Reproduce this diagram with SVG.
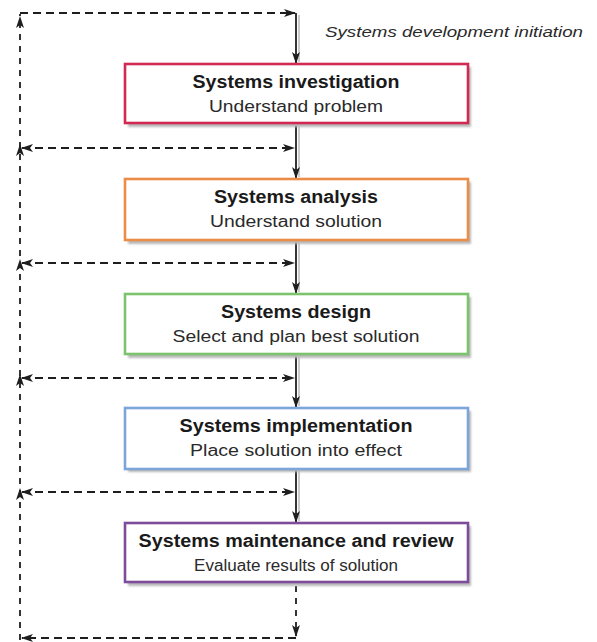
<svg xmlns="http://www.w3.org/2000/svg" width="597" height="642" viewBox="0 0 597 642">
  <style>
    .box { fill: #ffffff; stroke-width: 2.6; }
    .shadow { fill: #b8b8b8; filter: url(#soft); }
    .title { font-family: "Liberation Sans", Arial, sans-serif; font-weight: bold; font-size: 17.5px; fill: #1a1a1a; text-anchor: middle; }
    .sub { font-family: "Liberation Sans", Arial, sans-serif; font-size: 16px; fill: #2a2a2a; text-anchor: middle; }
    .note { font-family: "Liberation Sans", Arial, sans-serif; font-style: italic; font-size: 15.5px; fill: #2a2a2a; }
    .flow { stroke: #1e1e1e; stroke-width: 1.8; fill: none; }
    .flowshade { stroke: #b5b5b5; stroke-width: 1.4; fill: none; }
    .dashh { stroke: #1e1e1e; stroke-width: 1.8; fill: none; stroke-dasharray: 8 5; }
    .dashv { stroke: #1e1e1e; stroke-width: 1.8; fill: none; stroke-dasharray: 6 6; }
  </style>
  <defs>
    <filter id="soft" x="-10%" y="-10%" width="120%" height="130%">
      <feGaussianBlur stdDeviation="0.8"/>
    </filter>
    <marker id="head" viewBox="0 0 12 8" refX="11" refY="4" markerWidth="12" markerHeight="8" markerUnits="userSpaceOnUse" orient="auto-start-reverse">
      <path d="M0,0 L12,4 L0,8 L3,4 z" fill="#1e1e1e"/>
    </marker>
  </defs>

  <!-- connectors -->
  <g id="connectors">
    <!-- main downward flow between stages -->
    <line class="flowshade" x1="299" y1="15" x2="299" y2="62"/>
    <line class="flowshade" x1="299" y1="126" x2="299" y2="177"/>
    <line class="flowshade" x1="299" y1="243" x2="299" y2="292"/>
    <line class="flowshade" x1="299" y1="357" x2="299" y2="406"/>
    <line class="flowshade" x1="299" y1="471" x2="299" y2="521"/>
    <line class="flow" x1="296" y1="13" x2="296" y2="63" marker-end="url(#head)"/>
    <line class="flow" x1="296" y1="124" x2="296" y2="178" marker-end="url(#head)"/>
    <line class="flow" x1="296" y1="241" x2="296" y2="293" marker-end="url(#head)"/>
    <line class="flow" x1="296" y1="355" x2="296" y2="407" marker-end="url(#head)"/>
    <line class="flow" x1="296" y1="470" x2="296" y2="522" marker-end="url(#head)"/>

    <!-- feedback loop -->
    <line class="dashv" x1="296" y1="586" x2="296" y2="636" marker-end="url(#head)"/>
    <line class="dashh" x1="296" y1="638" x2="22" y2="638" marker-end="url(#head)"/>
    <line class="dashv" x1="20" y1="640" x2="20" y2="14"/>
    <line class="dashh" x1="20" y1="13" x2="295" y2="13" marker-end="url(#head)"/>

    <!-- upward arrowheads on the return line -->
    <path d="M20,16 L24,28 L20,25 L16,28 z" fill="#1e1e1e"/>
    <path d="M20,144 L24,156 L20,153 L16,156 z" fill="#1e1e1e"/>
    <path d="M20,259 L24,271 L20,268 L16,271 z" fill="#1e1e1e"/>
    <path d="M20,374 L24,386 L20,383 L16,386 z" fill="#1e1e1e"/>
    <path d="M20,488 L24,500 L20,497 L16,500 z" fill="#1e1e1e"/>

    <!-- two-way links between stages and the return line -->
    <line class="dashh" x1="22" y1="148" x2="294" y2="148" marker-start="url(#head)" marker-end="url(#head)"/>
    <line class="dashh" x1="22" y1="263" x2="294" y2="263" marker-start="url(#head)" marker-end="url(#head)"/>
    <line class="dashh" x1="22" y1="378" x2="294" y2="378" marker-start="url(#head)" marker-end="url(#head)"/>
    <line class="dashh" x1="22" y1="492" x2="294" y2="492" marker-start="url(#head)" marker-end="url(#head)"/>
  </g>

  <text class="note" x="325" y="37" textLength="258" lengthAdjust="spacingAndGlyphs">Systems development initiation</text>

  <g id="investigation">
    <rect class="shadow" x="128" y="67" width="343" height="60"/>
    <rect class="box" x="125" y="64" width="343" height="59" stroke="#d02a52"/>
    <text class="title" x="296" y="88" textLength="207" lengthAdjust="spacingAndGlyphs">Systems investigation</text>
    <text class="sub" x="296" y="112" textLength="174" lengthAdjust="spacingAndGlyphs">Understand problem</text>
  </g>

  <g id="analysis">
    <rect class="shadow" x="128" y="182" width="343" height="62"/>
    <rect class="box" x="125" y="179" width="343" height="61" stroke="#eb8d47"/>
    <text class="title" x="296" y="203" textLength="164" lengthAdjust="spacingAndGlyphs">Systems analysis</text>
    <text class="sub" x="296" y="227" textLength="172" lengthAdjust="spacingAndGlyphs">Understand solution</text>
  </g>

  <g id="design">
    <rect class="shadow" x="128" y="297" width="343" height="61"/>
    <rect class="box" x="125" y="294" width="343" height="60" stroke="#7cc46c"/>
    <text class="title" x="296" y="318" textLength="150" lengthAdjust="spacingAndGlyphs">Systems design</text>
    <text class="sub" x="296" y="342" textLength="247" lengthAdjust="spacingAndGlyphs">Select and plan best solution</text>
  </g>

  <g id="implementation">
    <rect class="shadow" x="128" y="411" width="343" height="61"/>
    <rect class="box" x="125" y="408" width="343" height="61" stroke="#7ca5d9"/>
    <text class="title" x="296" y="432" textLength="233" lengthAdjust="spacingAndGlyphs">Systems implementation</text>
    <text class="sub" x="296" y="456" textLength="212" lengthAdjust="spacingAndGlyphs">Place solution into effect</text>
  </g>

  <g id="maintenance">
    <rect class="shadow" x="128" y="526" width="343" height="60"/>
    <rect class="box" x="125" y="523" width="343" height="59" stroke="#7d4c9c"/>
    <text class="title" x="296" y="547" textLength="315" lengthAdjust="spacingAndGlyphs">Systems maintenance and review</text>
    <text class="sub" x="296" y="571" textLength="204" lengthAdjust="spacingAndGlyphs">Evaluate results of solution</text>
  </g>
</svg>
